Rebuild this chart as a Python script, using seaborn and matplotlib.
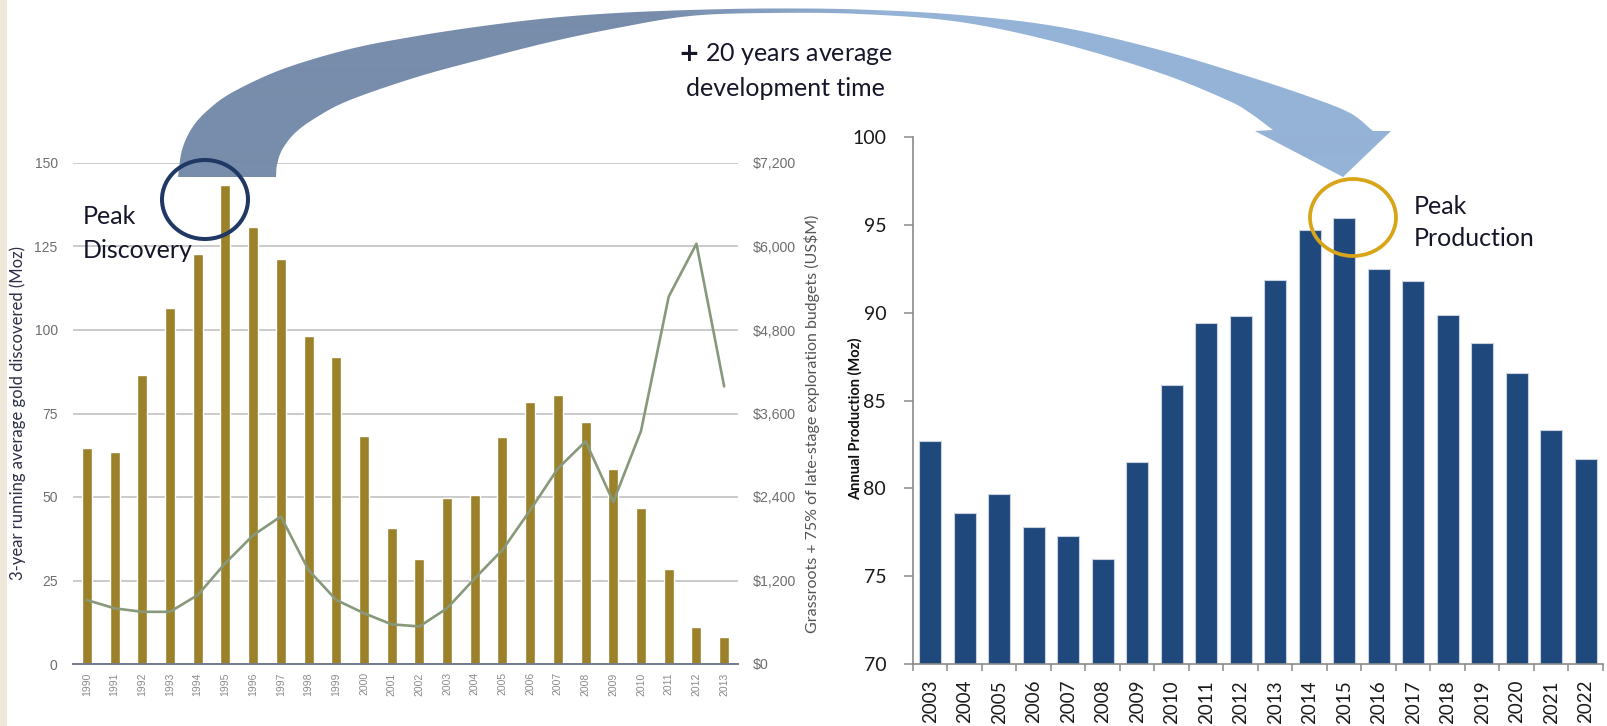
import numpy as np
import matplotlib
matplotlib.use("Agg")
import matplotlib.pyplot as plt
import seaborn as sns
from matplotlib.patches import Polygon, Ellipse, Rectangle
from matplotlib.ticker import FixedLocator

# ---- data -------------------------------------------------------------
disc_years = [str(y) for y in range(1990, 2014)]
gold_discovered = [64.6, 63.4, 86.5, 106.7, 122.8, 143.4, 130.7, 121.3, 98.3, 91.8,
                   68.4, 40.8, 31.4, 49.8, 50.6, 68.1, 78.5, 80.5, 72.4, 58.3,
                   46.8, 28.4, 11.2, 8.0]
exploration_budget = [920, 800, 750, 750, 990, 1450, 1850, 2120, 1350, 920,
                      730, 570, 540, 800, 1230, 1640, 2210, 2810, 3200, 2330,
                      3350, 5280, 6040, 3990]
prod_years = [str(y) for y in range(2003, 2023)]
annual_production = [82.7, 78.6, 79.7, 77.8, 77.3, 76.0, 81.5, 85.9, 89.4, 89.8,
                     91.9, 94.7, 95.4, 92.5, 91.8, 89.9, 88.3, 86.6, 83.3, 81.7]

disc_ticks = [0, 25, 50, 75, 100, 125, 150]
budget_ticks = [0, 1200, 2400, 3600, 4800, 6000, 7200]
budget_labels = ["$0", "$1,200", "$2,400", "$3,600", "$4,800", "$6,000", "$7,200"]
prod_ticks = [70, 75, 80, 85, 90, 95, 100]

# ---- style ------------------------------------------------------------
sns.set_style("white")
plt.rcParams["font.family"] = ["Lato", "DejaVu Sans"]
NARROW = ["Liberation Sans Narrow", "Liberation Sans", "DejaVu Sans"]

W, H = 1608, 726
fig = plt.figure(figsize=(W / 100, H / 100), dpi=100)
fig.patch.set_facecolor("white")


def frac(x0, y_top, x1, y_bot):
    """pixel box (y measured from top) -> figure fraction rect"""
    return [x0 / W, 1 - y_bot / H, (x1 - x0) / W, (y_bot - y_top) / H]


def smooth(pts, n=24):
    """Catmull-Rom curve through the given points"""
    P = np.asarray(pts, float)
    P = np.vstack([2 * P[0] - P[1], P, 2 * P[-1] - P[-2]])
    t = np.linspace(0, 1, n, endpoint=False)[:, None]
    segs = []
    for i in range(1, len(P) - 2):
        p0, p1, p2, p3 = P[i - 1], P[i], P[i + 1], P[i + 2]
        segs.append(0.5 * (2 * p1 + (p2 - p0) * t
                           + (2 * p0 - 5 * p1 + 4 * p2 - p3) * t ** 2
                           + (3 * p1 - p0 - 3 * p2 + p3) * t ** 3))
    segs.append(P[-2][None])
    return np.vstack(segs)


# ---- left: discoveries + exploration budgets ---------------------------
ax = fig.add_axes(frac(73, 163, 738, 664))
sns.barplot(x=disc_years, y=gold_discovered, color="#9b8129", saturation=1,
            width=0.36, ax=ax, zorder=2)
ax.set_xlim(-0.5, len(disc_years) - 0.5)
ax.set_ylim(0, 150)
ax.set_yticks(disc_ticks)
ax.yaxis.grid(True, color="#c6c6c6", lw=1.3, zorder=0)
ax.set_axisbelow(True)
for s in ["top", "right", "left"]:
    ax.spines[s].set_visible(False)
ax.spines["bottom"].set_color("#747b8c")
ax.spines["bottom"].set_linewidth(1.4)
ax.tick_params(axis="y", length=0, pad=11, labelsize=10, labelcolor="#6e6e6e")
ax.tick_params(axis="x", length=0, pad=6, labelsize=7.5, labelcolor="#8a8a8a",
               rotation=90)
for t in ax.get_yticklabels() + ax.get_xticklabels():
    t.set_family(NARROW)
ax.set_xlabel("")
ax.set_ylabel("3-year running average gold discovered (Moz)", fontsize=12,
              color="#2e3048", va="center", ha="center")
ax.yaxis.set_label_coords(-0.083, 0.50)

ax2 = ax.twinx()
sns.lineplot(x=np.arange(len(disc_years)), y=exploration_budget, ax=ax2,
             color="#87997a", lw=1.9, zorder=3)
ax2.set_ylim(0, 7200)
ax2.yaxis.set_major_locator(FixedLocator(budget_ticks))
ax2.set_yticklabels(budget_labels)
for s in ax2.spines.values():
    s.set_visible(False)
ax2.tick_params(axis="y", length=0, pad=11, labelsize=10.2, labelcolor="#6e6e6e")
for t in ax2.get_yticklabels():
    t.set_family(NARROW)
ax2.set_ylabel("Grassroots + 75% of late-stage exploration budgets (US$M)",
               fontsize=11.5, color="#555555", va="center", ha="center",
               rotation=90)
ax2.yaxis.set_label_coords(1.112, 0.48)

# ---- right: annual production -----------------------------------------
axr = fig.add_axes(frac(913, 137.3, 1603, 664))
sns.barplot(x=prod_years, y=annual_production, color="#1f497d", saturation=1,
            width=0.65, edgecolor="#c9d1de", linewidth=0.8, ax=axr)
axr.set_xlim(-0.5, len(prod_years) - 0.5)
axr.set_ylim(70, 100)
axr.set_yticks(prod_ticks)
for s in ["top", "right"]:
    axr.spines[s].set_visible(False)
for s in ["left", "bottom"]:
    axr.spines[s].set_color("#8a8a8a")
    axr.spines[s].set_linewidth(1.2)
axr.xaxis.set_minor_locator(FixedLocator(np.arange(len(prod_years) + 1) - 0.5))
axr.tick_params(axis="x", which="major", length=0, pad=11.5, labelsize=13.5,
                labelcolor="#1a1a1a", rotation=90)
axr.tick_params(axis="x", which="minor", length=5, width=1.1, color="#8a8a8a",
                bottom=True)
axr.tick_params(axis="y", length=6.3, width=1.1, color="#8a8a8a", pad=13,
                labelsize=14, labelcolor="#1a1a1a", left=True)
axr.set_xlabel("")
axr.set_ylabel("Annual Production (Moz)", fontsize=10.5, fontweight="bold",
               color="#111111", va="center", ha="center")
axr.yaxis.set_label_coords(-0.084, 0.465)

# ---- overlay: arrow, highlight rings, notes ---------------------------
ov = fig.add_axes([0, 0, 1, 1], zorder=10)
ov.set_xlim(0, W)
ov.set_ylim(H, 0)
ov.axis("off")
ov.patch.set_alpha(0)

ov.add_patch(Rectangle((0, 0), 7, H, facecolor="#efe8da", edgecolor="none"))

outer = [(178, 177), (182, 150), (192, 128), (208, 110), (233, 92), (283, 69),
         (350, 49), (417, 36), (483, 26), (550, 18), (617, 13), (690, 10),
         (770, 8.5), (860, 9.5), (960, 15), (1060, 27), (1160, 50), (1250, 77),
         (1310, 97), (1350, 113), (1373, 131)]
head = [(1391, 131), (1343, 177), (1255, 131), (1273, 130)]
inner = [(1273, 130), (1250, 113), (1227, 100), (1160, 73), (1060, 43),
         (960, 22), (860, 14), (770, 13), (690, 16), (617, 28), (550, 42),
         (483, 59), (417, 77), (350, 100), (317, 117), (295, 133), (282, 150),
         (277, 165), (276, 177)]
shape = np.vstack([smooth(outer), np.array(head[:3], float), smooth(inner)])
arrow = Polygon(shape, closed=True, facecolor="none", edgecolor="none",
                transform=ov.transData)
ov.add_patch(arrow)

c_left = np.array([120, 141, 171]) / 255
c_right = np.array([149, 179, 215]) / 255
xs = np.arange(W)
tmix = np.clip((xs - 660) / (880 - 660), 0, 1)[:, None]
grad = (c_left * (1 - tmix) + c_right * tmix)[None, :, :]
img = ov.imshow(grad, extent=(0, W, H, 0), aspect="auto", interpolation="bilinear",
                zorder=1)
img.set_clip_path(arrow)
ov.set_xlim(0, W)
ov.set_ylim(H, 0)

ov.add_patch(Ellipse((205, 199.5), 86, 79, facecolor="none", edgecolor="#1f3864",
                     lw=2.9, zorder=3))
ov.add_patch(Ellipse((1353, 217.5), 86, 77, facecolor="none", edgecolor="#d8a418",
                     lw=2.7, zorder=3))

note_kw = dict(fontsize=18, color="#16162a", zorder=4)
ov.text(83, 216, "Peak", ha="left", va="center", **note_kw)
ov.text(83, 250, "Discovery", ha="left", va="center", **note_kw)
ov.text(1414, 207, "Peak", ha="left", va="center", **note_kw)
ov.text(1414, 238, "Production", ha="left", va="center", **note_kw)
ov.text(785, 54, r"$\mathbf{+}$ 20 years average", ha="center", va="center",
        **note_kw)
ov.text(785, 88, "development time", ha="center", va="center", **note_kw)

fig.savefig("out.png", dpi=100, facecolor="white")
